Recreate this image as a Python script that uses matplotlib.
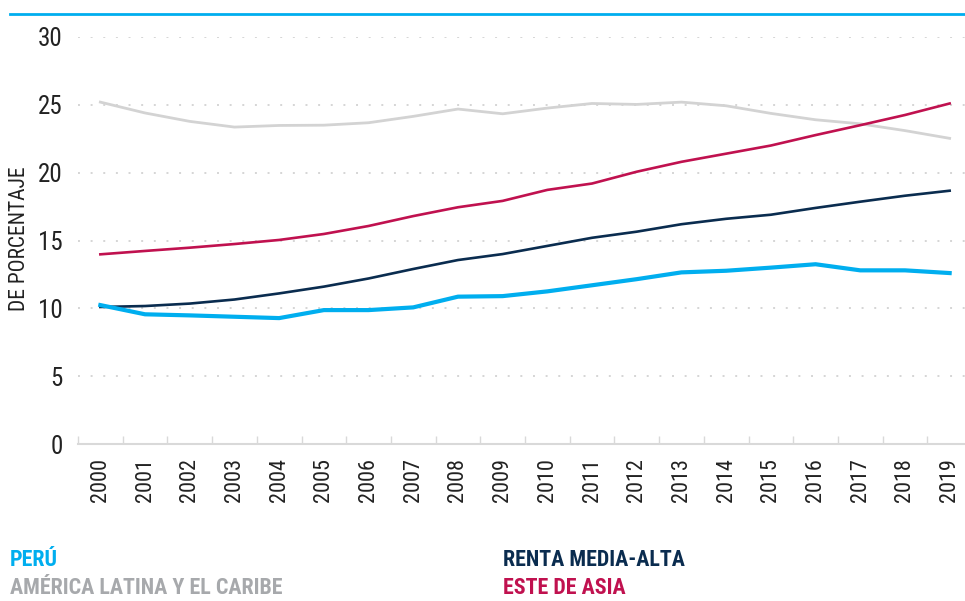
import matplotlib
matplotlib.use("Agg")
import matplotlib.pyplot as plt
from matplotlib.lines import Line2D
from matplotlib import font_manager

# Datos (porcentaje)
years = [str(y) for y in range(2000, 2020)]
peru = [10.24, 9.56, 9.48, 9.38, 9.28, 9.87, 9.87, 10.07, 10.86, 10.9,
        11.25, 11.7, 12.15, 12.65, 12.77, 13.0, 13.25, 12.8, 12.8, 12.6]
lac = [25.2, 24.4, 23.78, 23.36, 23.48, 23.5, 23.68, 24.15, 24.69, 24.34,
       24.76, 25.1, 25.03, 25.2, 24.93, 24.37, 23.9, 23.6, 23.1, 22.53]
renta = [10.1, 10.17, 10.35, 10.65, 11.1, 11.6, 12.2, 12.9, 13.56, 14.0,
         14.6, 15.2, 15.65, 16.2, 16.6, 16.9, 17.4, 17.86, 18.3, 18.67]
asia = [13.98, 14.23, 14.47, 14.74, 15.04, 15.48, 16.07, 16.8, 17.45, 17.92,
        18.73, 19.2, 20.07, 20.8, 21.4, 22.0, 22.77, 23.5, 24.25, 25.1]

CYAN = "#00AEEF"
GRIS = "#D3D3D3"
GRIS_TXT = "#A7A9AC"
NAVY = "#0A2C4F"
ROJO = "#C0114F"

# buscar una fuente estrecha si existe
names = {f.name for f in font_manager.fontManager.ttflist}
cond = [f for f in font_manager.fontManager.ttflist if f.stretch in ("condensed", "semi-condensed")]
fam = None
for n in ["Roboto Condensed", "Open Sans Condensed", "Liberation Sans Narrow", "Noto Sans Condensed"]:
    if n in names:
        fam = n
        break
if fam is None:
    fam = "DejaVu Sans"
    if any(f.name == "DejaVu Sans" for f in cond):
        plt.rcParams["font.stretch"] = "condensed"
plt.rcParams["font.family"] = [fam, "DejaVu Sans"]

fig = plt.figure(figsize=(9.65, 6.01), dpi=100)
ax = fig.add_axes([78 / 965, 1 - 444 / 601, (972 - 78) / 965, (444 - 37) / 601])

x = list(range(len(years)))
ax.plot(x, lac, color=GRIS, lw=2.0, solid_joinstyle="round")
ax.plot(x, asia, color=ROJO, lw=1.9)
ax.plot(x, renta, color=NAVY, lw=1.9)
ax.plot(x, peru, color=CYAN, lw=3.0)

ax.set_xlim(-0.5, len(years) - 0.5)
ax.set_ylim(0, 30)
ax.set_yticks([0, 5, 10, 15, 20, 25, 30])
ax.set_xticks(x)
ax.set_xticklabels(years, rotation=90)
ax.set_xticks([i - 0.5 for i in range(len(years) + 1)], minor=True)

for v in [5, 10, 15, 20, 25, 30]:
    ax.axhline(v, color="#D5D5D5", lw=1.4, ls=(0, (1, 5.5)), zorder=0)

for s in ["top", "right", "left"]:
    ax.spines[s].set_visible(False)
ax.spines["bottom"].set_color("#D9D9D9")
ax.spines["bottom"].set_linewidth(1.5)

ax.tick_params(axis="y", length=0, pad=11, labelsize=18, labelcolor="#222222")
ax.tick_params(axis="x", which="major", length=0, pad=10, labelsize=16, labelcolor="#222222")
ax.tick_params(axis="x", which="minor", direction="in", length=6, width=1, color="#D9D9D9")

fig.text(20 / 965, 1 - 239 / 601, "DE PORCENTAJE", rotation=90, ha="center", va="center",
         fontsize=15.5, color="#222222")

# línea superior
fig.add_artist(Line2D([10 / 965, 1], [1 - 14 / 601, 1 - 14 / 601], color=CYAN, lw=2))

# leyenda
fs = 15.8
fig.text(10 / 965, 1 - 560 / 601, "PERÚ", color=CYAN, fontsize=fs, fontweight="bold", va="center")
fig.text(10 / 965, 1 - 588 / 601, "AMÉRICA LATINA Y EL CARIBE", color=GRIS_TXT, fontsize=fs,
         fontweight="bold", va="center")
fig.text(503 / 965, 1 - 560 / 601, "RENTA MEDIA-ALTA", color=NAVY, fontsize=fs, fontweight="bold",
         va="center")
fig.text(503 / 965, 1 - 588 / 601, "ESTE DE ASIA", color=ROJO, fontsize=fs, fontweight="bold",
         va="center")

fig.savefig("out.png", dpi=100)
